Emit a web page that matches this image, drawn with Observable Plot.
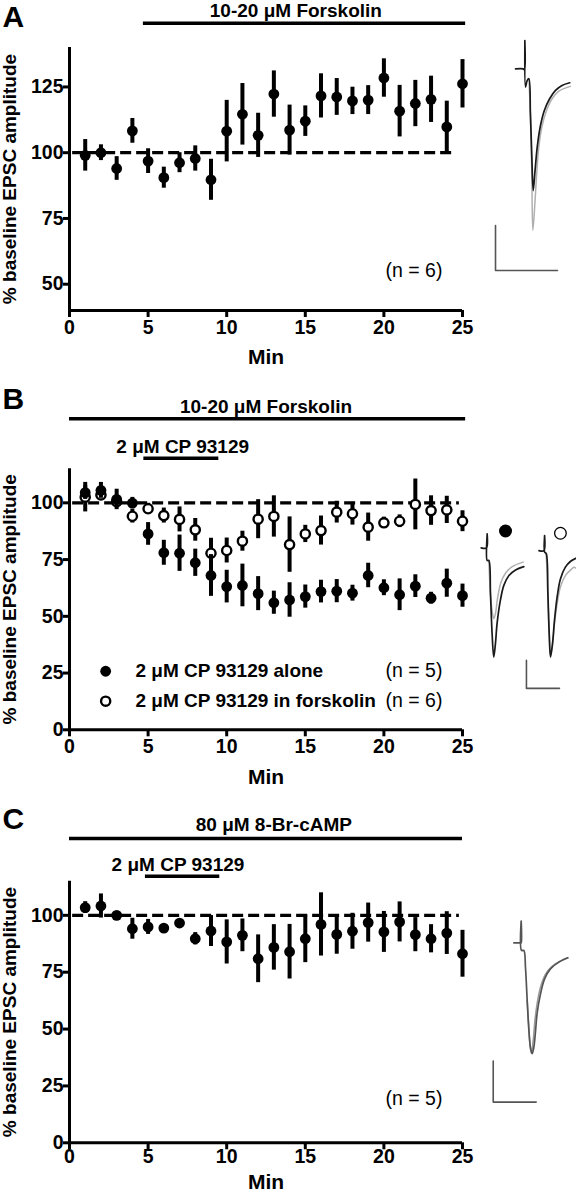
<!DOCTYPE html>
<html><head><meta charset="utf-8">
<script src="https://cdn.jsdelivr.net/npm/d3@7"></script>
<script src="https://cdn.jsdelivr.net/npm/@observablehq/plot@0.6"></script>
<style>
body{margin:0;background:#fff;}
#fig{position:relative;width:576px;height:1200px;overflow:hidden;background:#fff;}
#fig svg{position:absolute;}
</style></head><body><div id="fig"></div>
<script>
// ---------- data ----------
const minutes = [1,2,3,4,5,6,7,8,9,10,11,12,13,14,15,16,17,18,19,20,21,22,23,24,25];
const xTicks = [0,5,10,15,20,25];
const yTicksA = [50,75,100,125];
const yTicksBC = [0,25,50,75,100];

// Panel A: forskolin
const aMean = [99,100,94,108.3,96.8,90.5,96.2,97.8,89.7,108.2,114.6,106.6,122.3,108.6,112,121.6,121.2,119.7,120,128.4,115.8,118.7,120.3,109.8,126.2];
const aSem  = [6,3,4.5,4.7,4.7,4,3.8,4.8,7.8,11.7,11.7,8.4,8.8,9.5,5.8,8.4,7,5.2,5.5,7.3,9.8,8.8,8.8,9.8,9.2];

// Panel B: CP 93129 alone (filled) and in forskolin (open)
const bAloneMean = [104.5,105.5,101.5,99.9,86.3,78,77.8,73.6,68,63.1,63.6,60,56,57.2,58.7,60.9,61.1,60.2,68,62.6,59.5,63.3,58,64.6,59.1];
const bAloneSem  = [3,3.5,4.5,2.5,5,5.5,8,6,9.2,7.2,9.4,7.5,5.1,7.6,5.1,5,5.1,3.5,5.4,3.5,7,5,2.6,6.2,5.1];
const bForskMean = [102.5,103.5,100.5,94.1,97.4,94.4,92.7,88.1,77.8,79,83.1,92.8,94,81.6,86.3,87.8,95.9,95.2,89.3,91.2,91.9,99.3,96.6,96.9,91.9];
const bForskSem  = [6.5,2,2,3,2.4,3.3,5.5,5,6.6,5.5,4.4,8.6,9.1,12.2,3.8,6.4,4.8,5,6.2,2.5,2.8,11.2,6.5,6,4.6];

// Panel C: CP 93129 in 8-Br-cAMP
const cMean = [103.4,104.1,100,94.1,94.9,94.4,96.6,89.7,93.1,88.3,91.2,80.9,85.9,84,89.7,96,91.6,93,96.8,92.7,97.1,91.5,89.7,92.2,83.1];
const cSem  = [2.6,5.3,1.5,4.6,3.3,1,1,2.7,6.8,9.7,7.2,10.5,10,12,10.5,13.9,8.7,7.9,8.6,9,8.8,7.5,6.2,9.4,10.3];

// Example EPSC traces [ms, pA]
const traceA_fsk  = [[-3,0],[-0.54,0],[-0.1,-4],[0,126],[0.2,-81],[0.75,-52],[1.3,-44],[1.8,-200],[2.26,-392],[2.7,-541],[3.3,-452],[4,-348],[5.05,-252],[6.3,-185],[8,-133],[9.9,-96],[12,-74],[14.5,-62]];
const traceA_base = [[1.3,-44],[1.8,-200],[2.26,-481],[2.58,-718],[3.1,-630],[3.76,-481],[4.5,-348],[5.6,-252],[7,-185],[8.8,-133],[11,-99],[14.7,-78]];
const barA = [[-9.46,-696],[-9.46,-896],[10.54,-896]];

const traceB1_drug = [[-1.8,0],[-0.2,0],[0,50],[0,-45],[0.5,-45],[1,-164],[1.5,-307],[2,-390],[2.5,-343],[3,-271],[4,-188],[5.05,-134],[6.6,-99],[8.6,-79],[11.1,-67]];
const traceB1_base = [[0.5,-45],[1,-164],[1.5,-224],[2,-253],[2.5,-236],[3.2,-176],[4.2,-123],[5.6,-90],[7.6,-67],[10.9,-51]];
const traceB2_drug = [[15.7,-10],[17.2,-10],[17.4,44],[17.4,-15],[17.9,-21],[18.4,-164],[18.8,-307],[19.2,-390],[19.8,-343],[20.4,-259],[21.2,-176],[22.2,-111],[23.7,-69],[25.3,-48],[27.1,-36]];
const traceB2_base = [[17.9,-21],[18.4,-164],[18.8,-307],[19.2,-384],[19.8,-343],[20.4,-271],[21.2,-200],[22.2,-140],[23.7,-99],[25.3,-79],[26.3,-69],[27.1,-75]];
const barB = [[11.9,-402],[11.9,-502],[21.9,-502]];
const markerB = [[5.56,60,"filled"],[22.2,52,"open"]];

const traceC_drug = [[-3.4,0],[-0.3,0],[0,0],[0,106],[0.15,-37],[1.24,-37],[2,-119],[2.8,-281],[3.6,-428],[4.3,-509],[5.1,-541],[5.9,-509],[6.7,-428],[7.4,-346],[9,-249],[10.9,-176],[13.6,-127],[17.5,-94],[21.7,-73]];
const traceC_base = [[2.8,-281],[3.6,-420],[4.3,-517],[4.8,-538],[5.6,-476],[6.4,-379],[7.4,-298],[9,-216],[11.3,-154],[14.4,-115],[18.3,-89],[21.7,-73]];
const barC = [[-13,-577],[-13,-777],[7,-777]];

// ---------- helpers ----------
const FONT = "'Liberation Sans', Arial, Helvetica, sans-serif";
const fig = document.getElementById("fig");
const rows = (mean, sem) => minutes.map((t, i) => ({t, m: mean[i], lo: mean[i] - sem[i], hi: mean[i] + sem[i]}));
const pts = arr => arr.map(([t, v]) => ({t, v}));

function place(el, left, top) {
  el.style.left = left + "px";
  el.style.top = top + "px";
  fig.appendChild(el);
}

function seriesMarks(data, open) {
  return [
    Plot.ruleX(data, {x: "t", y1: "lo", y2: "hi", stroke: "black", strokeWidth: 4}),
    open
      ? Plot.dot(data, {x: "t", y: "m", r: 4.6, fill: "white", stroke: "black", strokeWidth: 2.4})
      : Plot.dot(data, {x: "t", y: "m", r: 5.4, fill: "black"})
  ];
}

function panel({height, marginTop, marginBottom, yDomain, yTicks, letter, letterDy, dashEnd, minDy, tickDy, marks}) {
  return Plot.plot({
    width: 576, height, marginLeft: 69, marginRight: 114, marginTop, marginBottom,
    x: {domain: [0, 25]},
    y: {domain: yDomain},
    style: {fontFamily: FONT, fontSize: "19px", fontWeight: "bold", background: "transparent", overflow: "visible", color: "black"},
    marks: [
      Plot.axisX({ticks: xTicks, tickSize: 7, strokeWidth: 3, label: null, tickFormat: () => ""}),
      Plot.axisY({ticks: yTicks, tickSize: 6, strokeWidth: 3, label: null, tickFormat: () => ""}),
      Plot.text(xTicks, {x: d => d, frameAnchor: "bottom", dy: tickDy, lineAnchor: "middle", fontSize: 19.5, fontWeight: "bold"}),
      Plot.text(yTicks, {y: d => d, frameAnchor: "left", dx: -6, textAnchor: "end", lineAnchor: "middle", fontSize: 19.5, fontWeight: "bold"}),
      Plot.ruleY([yDomain[0]], {x1: 0, x2: 25, strokeWidth: 3}),
      Plot.ruleX([0], {y1: yDomain[0], y2: yDomain[1], strokeWidth: 3}),
      Plot.ruleY([100], {x1: 0.2, x2: dashEnd, strokeWidth: 3.3, strokeDasharray: "11,5"}),
      ...marks,
      Plot.text(["% baseline EPSC amplitude"], {frameAnchor: "left", textAnchor: "middle", rotate: -90, dx: -60, fontSize: 19, fontWeight: "bold"}),
      Plot.text(["Min"], {frameAnchor: "bottom", lineAnchor: "middle", dy: minDy, fontSize: 21, fontWeight: "bold"}),
      Plot.text([letter], {frameAnchor: "top-left", dx: -67, dy: letterDy, textAnchor: "start", lineAnchor: "top", fontSize: 30, fontWeight: "bold"})
    ]
  });
}

function inset({width, height, xDomain, yDomain, lines, bar, extra = []}) {
  return Plot.plot({
    width, height, margin: 0,
    x: {domain: xDomain, axis: null},
    y: {domain: yDomain, axis: null},
    style: {background: "transparent", overflow: "visible"},
    marks: [
      ...lines.map(([d, stroke, sw]) => Plot.line(pts(d), {x: "t", y: "v", stroke, strokeWidth: sw, curve: "catmull-rom"})),
      Plot.line(pts(bar), {x: "t", y: "v", stroke: "#555", strokeWidth: 1.6}),
      ...extra
    ]
  });
}

// ---------- Panel A ----------
place(panel({
  height: 370, marginTop: 47, marginBottom: 60,
  yDomain: [40, 140], yTicks: yTicksA, letter: "A", letterDy: -42, dashEnd: 24.5, minDy: 47, tickDy: 17,
  marks: [
    ...seriesMarks(rows(aMean, aSem), false),
    Plot.ruleY([149.2], {x1: 4.7, x2: 25.2, strokeWidth: 3.5}),
    Plot.text(["10-20 μM Forskolin"], {x: 14.4, y: 153.8, fontWeight: "bold", fontSize: 19}),
    Plot.text(["(n = 6)"], {x: 20.1, y: 55, textAnchor: "start", fontWeight: "normal", fontSize: 19.5})
  ]
}), 0, 0);

// ---------- Panel B ----------
const legendB = [
  {x: 2.3, y: 25.8, label: "2 μM CP 93129 alone", n: "(n = 5)", open: false},
  {x: 2.3, y: 12.6, label: "2 μM CP 93129 in forskolin", n: "(n = 6)", open: true}
];
place(panel({
  height: 420, marginTop: 98.3, marginBottom: 60.7,
  yDomain: [0, 115], yTicks: yTicksBC, letter: "B", letterDy: -81.3, dashEnd: 24.8, minDy: 47, tickDy: 17,
  marks: [
    ...seriesMarks(rows(bForskMean, bForskSem), true),
    ...seriesMarks(rows(bAloneMean, bAloneSem), false),
    Plot.ruleY([137], {x1: 0, x2: 25.2, strokeWidth: 3.5}),
    Plot.text(["10-20 μM Forskolin"], {x: 12.5, y: 142.1, fontWeight: "bold", fontSize: 19}),
    Plot.ruleY([119.6], {x1: 4.73, x2: 9.5, strokeWidth: 3.5}),
    Plot.text(["2 μM CP 93129"], {x: 7.2, y: 124.5, fontWeight: "bold", fontSize: 19}),
    Plot.dot(legendB.filter(d => !d.open), {x: "x", y: "y", r: 5.4, fill: "black"}),
    Plot.dot(legendB.filter(d => d.open), {x: "x", y: "y", r: 4.6, fill: "white", stroke: "black", strokeWidth: 2.4}),
    Plot.text(legendB, {x: 4.2, y: "y", text: "label", textAnchor: "start", fontWeight: "bold", fontSize: 19}),
    Plot.text(legendB, {x: 20.1, y: "y", text: "n", textAnchor: "start", fontWeight: "normal", fontSize: 19.5})
  ]
}), 0, 370);

// ---------- Panel C ----------
place(panel({
  height: 410, marginTop: 90.7, marginBottom: 57.7,
  yDomain: [0, 115], yTicks: yTicksBC, letter: "C", letterDy: -74, dashEnd: 24.8, minDy: 39.5, tickDy: 13.5,
  marks: [
    ...seriesMarks(rows(cMean, cSem), false),
    Plot.ruleY([133.8], {x1: 0, x2: 25, strokeWidth: 3.5}),
    Plot.text(["80 μM 8-Br-cAMP"], {x: 13.0, y: 139.6, fontWeight: "bold", fontSize: 19}),
    Plot.ruleY([117.2], {x1: 4.83, x2: 9.56, strokeWidth: 3.5}),
    Plot.text(["2 μM CP 93129"], {x: 6.9, y: 122.2, fontWeight: "bold", fontSize: 19}),
    Plot.text(["(n = 5)"], {x: 20.1, y: 19.4, textAnchor: "start", fontWeight: "normal", fontSize: 19.5})
  ]
}), 0, 790);

// ---------- Insets ----------
place(inset({
  width: 106, height: 250, xDomain: [-17.53, 16.67], yDomain: [-940.7, 170.4],
  lines: [[traceA_base, "#b0b0b0", 1.5], [traceA_fsk, "#1a1a1a", 1.7]],
  bar: barA
}), 470, 30);

place(inset({
  width: 106, height: 185, xDomain: [-5.05, 27.07], yDomain: [-527.4, 133.3],
  lines: [[traceB1_base, "#b0b0b0", 1.5], [traceB1_drug, "#1a1a1a", 1.7], [traceB2_base, "#b0b0b0", 1.5], [traceB2_drug, "#1a1a1a", 1.7]],
  bar: barB,
  extra: [
    Plot.dot(markerB.filter(d => d[2] === "filled").map(([t, v]) => ({t, v})), {x: "t", y: "v", r: 6.5, fill: "black"}),
    Plot.dot(markerB.filter(d => d[2] === "open").map(([t, v]) => ({t, v})), {x: "t", y: "v", r: 5.8, fill: "white", stroke: "black", strokeWidth: 1.3})
  ]
}), 470, 510);

place(inset({
  width: 106, height: 210, xDomain: [-23.57, 25.74], yDomain: [-818, 206.5],
  lines: [[traceC_base, "#999", 1.5], [traceC_drug, "#555", 1.7]],
  bar: barC
}), 470, 900);
</script></body></html>
